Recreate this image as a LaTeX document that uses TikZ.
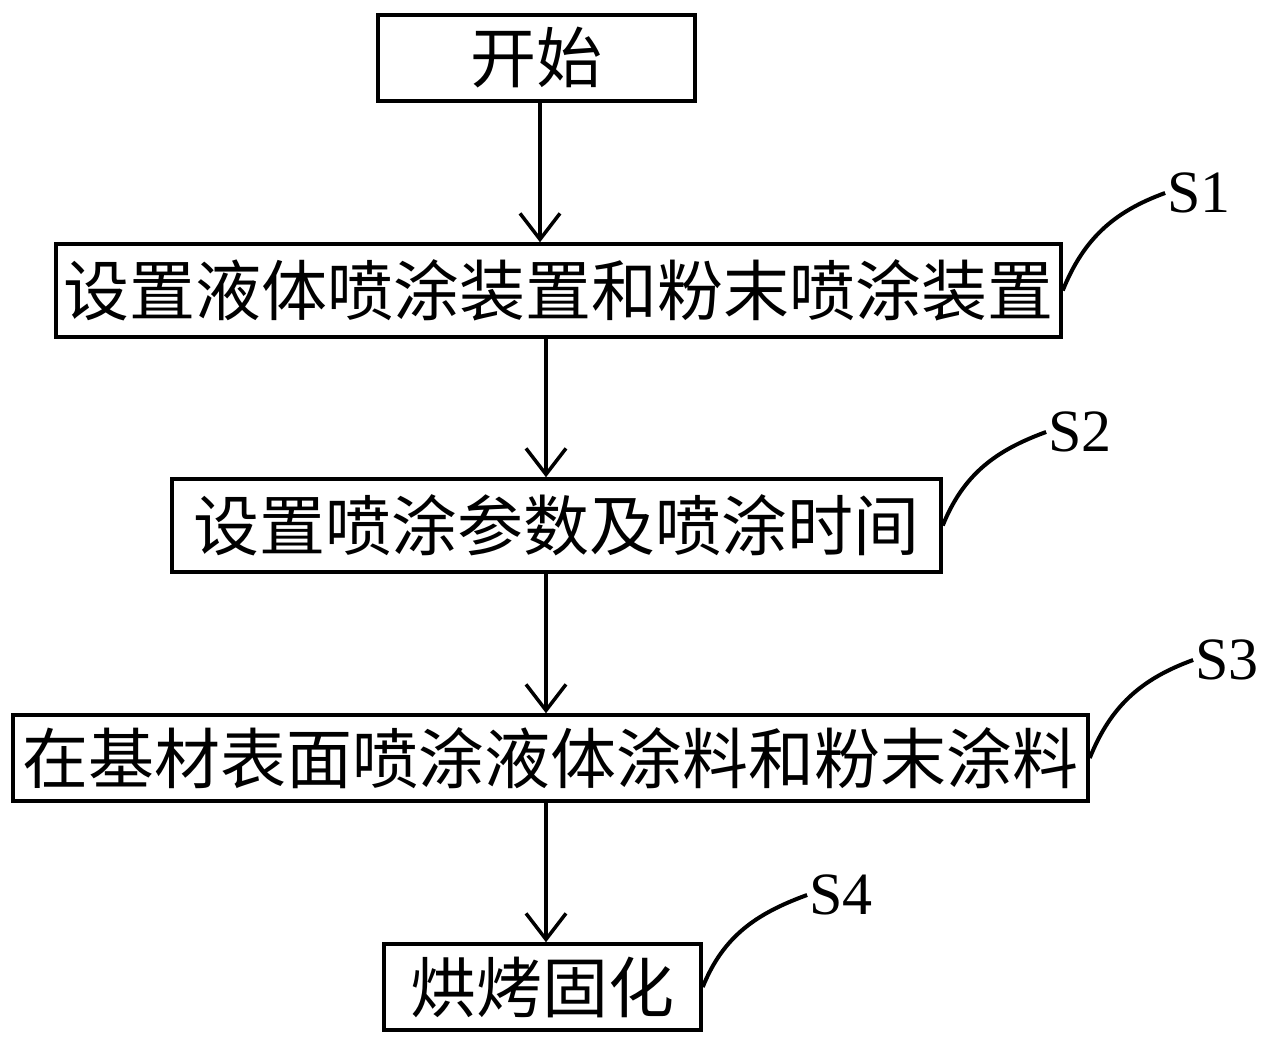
\documentclass[tikz,border=0pt]{standalone}
\usepackage{fontspec}
\setmainfont{Liberation Serif}
\newfontfamily\cjk{Noto Sans CJK SC}
\usetikzlibrary{arrows.meta}

\begin{document}
\begin{tikzpicture}[x=1pt,y=1pt,
  box/.style={draw, line width=3.5pt, inner sep=0pt, minimum height=86pt,
    font=\cjk\fontsize{66}{66}\selectfont},
  tag/.style={inner sep=2pt, font=\fontsize{60}{60}\selectfont},
  flow/.style={line width=3.5pt, -{Straight Barb[length=26pt,width=40pt]}},
  lead/.style={line width=4pt}]
  \useasboundingbox (0,0) rectangle (1272,1045);
  \node[box, minimum width=317pt] (start) at (536.5,987) {开始};
  \node[box, minimum width=1005pt, minimum height=93pt] (s1) at (558.5,754.5) {设置液体喷涂装置和粉末喷涂装置};
  \node[box, minimum width=769pt, minimum height=93pt] (s2) at (556.5,519.5) {设置喷涂参数及喷涂时间};
  \node[box, minimum width=1075pt] (s3) at (550.5,287) {在基材表面喷涂液体涂料和粉末涂料};
  \node[box, minimum width=317pt] (s4) at (542.5,58) {烘烤固化};
  \node[tag] (l1) at (1199,852) {S1};
  \node[tag] (l2) at (1080,613) {S2};
  \node[tag] (l3) at (1227,385) {S3};
  \node[tag] (l4) at (841,150) {S4};
  \coordinate (ax0) at (540,0);
  \coordinate (ax) at (546,0);
  \draw[flow] (start.south -| ax0) -- (s1.north -| ax0);
  \draw[flow] (s1.south -| ax) -- (s2.north -| ax);
  \draw[flow] (s2.south -| ax) -- (s3.north -| ax);
  \draw[flow] (s3.south -| ax) -- (s4.north -| ax);
  \draw[lead] (s1.east) to[out=68, in=200] (l1.west);
  \draw[lead] (s2.east) to[out=68, in=200] (l2.west);
  \draw[lead] (s3.east) to[out=68, in=200] (l3.west);
  \draw[lead] (s4.east) to[out=68, in=200] (l4.west);
\end{tikzpicture}
\end{document}
